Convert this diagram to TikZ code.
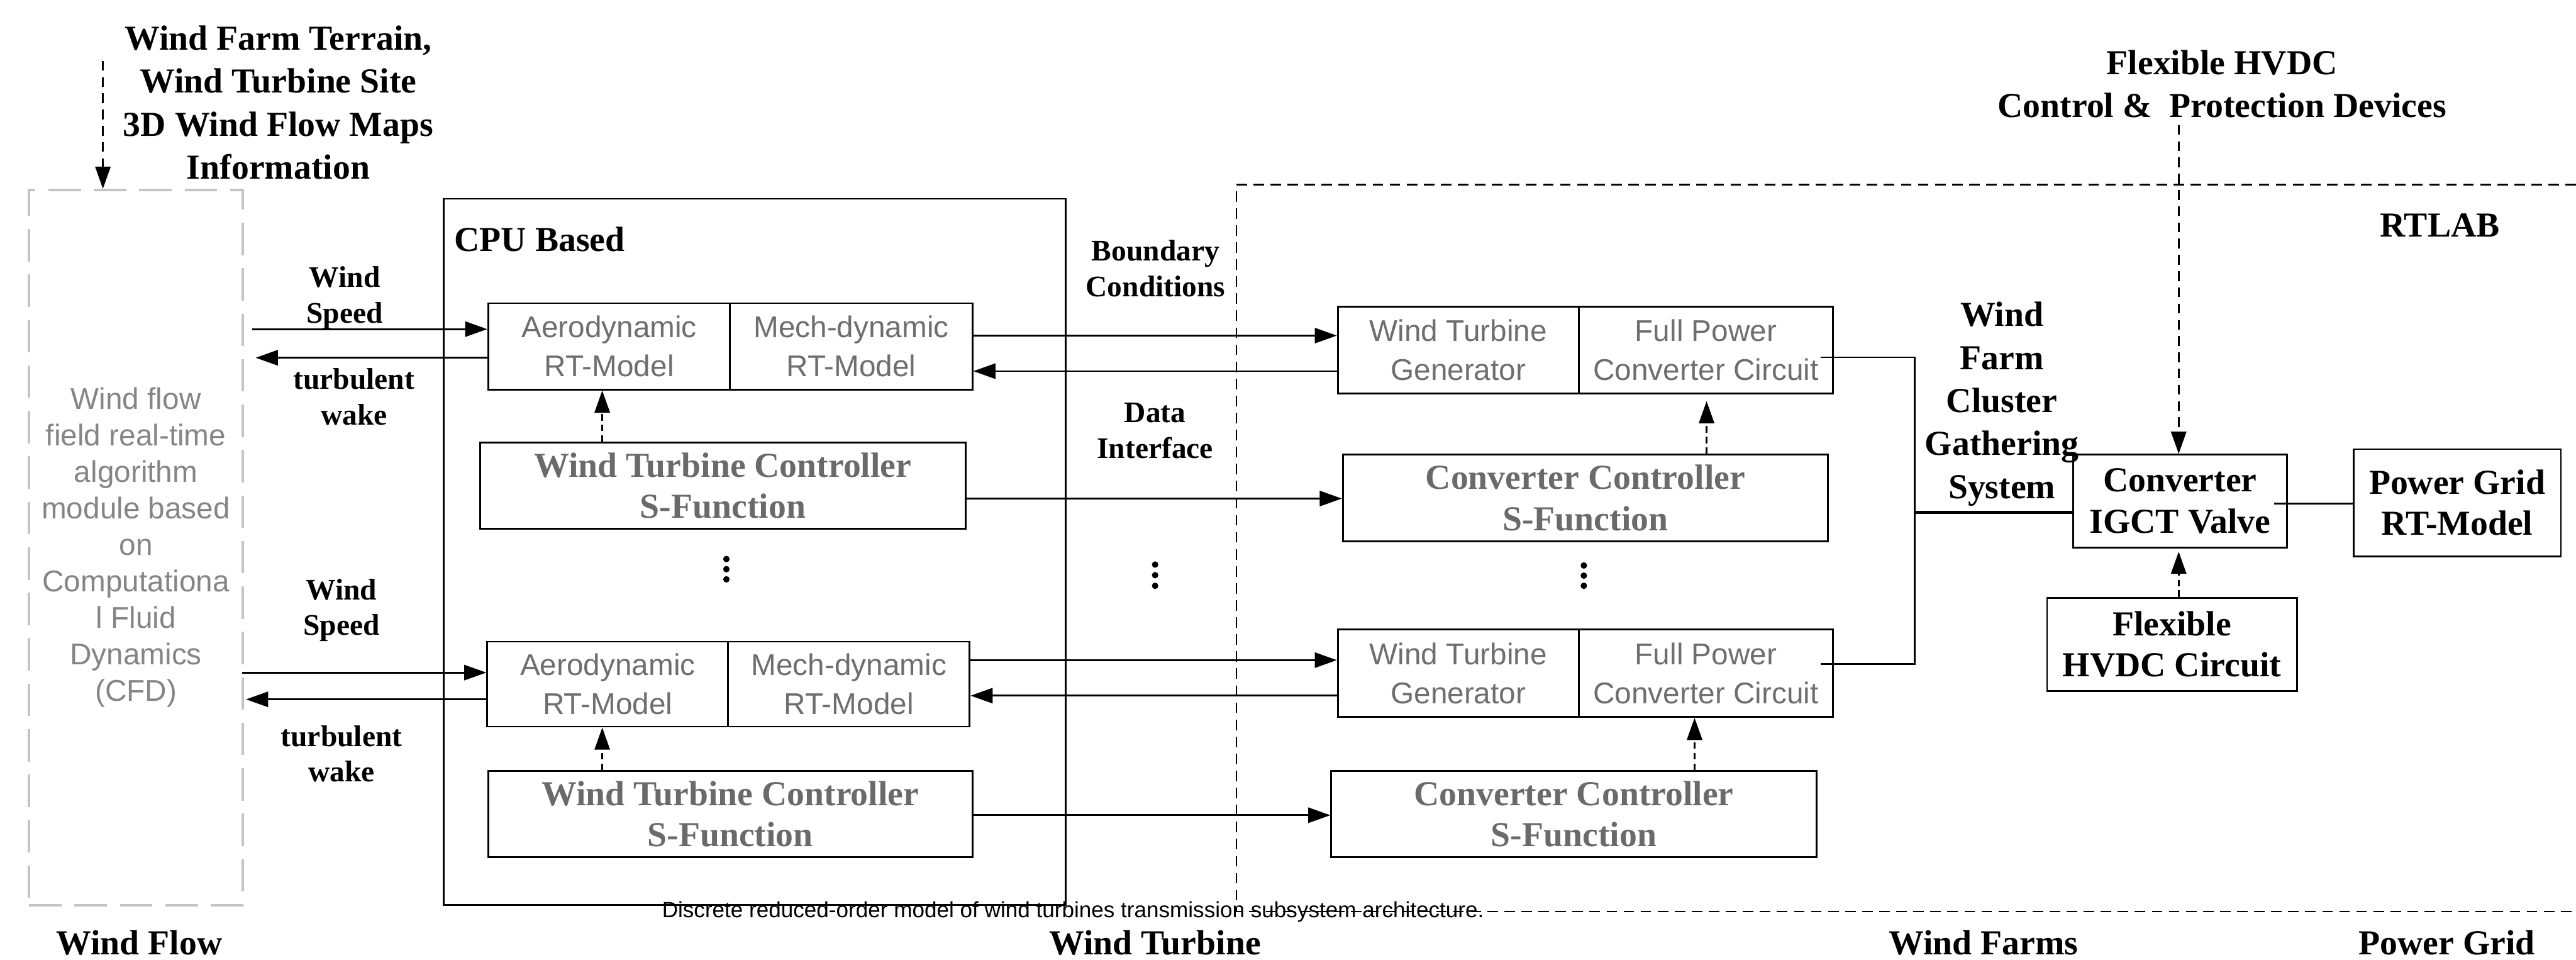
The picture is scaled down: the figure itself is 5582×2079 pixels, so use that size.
\documentclass[tikz,border=0pt]{standalone}
\usepackage{fontspec}
\setmainfont{Liberation Serif}
\setsansfont{Liberation Sans}
\usetikzlibrary{arrows.meta}
\definecolor{gtxt}{HTML}{6E6E6E}
\definecolor{gleft}{HTML}{858585}
\definecolor{gbld}{HTML}{6A6A6A}
\definecolor{gdash}{HTML}{C4C4C4}
\tikzset{
  bx/.style={draw, line width=1.1pt, inner sep=0pt, align=center},
  gsans/.style={font=\sffamily\fontsize{18.5pt}{24pt}\selectfont, text=gtxt},
  gbold/.style={font=\bfseries\fontsize{21.6pt}{25.5pt}\selectfont, text=gbld},
  bbox/.style={font=\bfseries\fontsize{21.6pt}{25.3pt}\selectfont},
  bbig/.style={font=\bfseries\fontsize{21.6pt}{26.5pt}\selectfont, inner sep=0pt, align=center},
  bsmall/.style={font=\bfseries\fontsize{18.4pt}{22pt}\selectfont, inner sep=0pt, align=center},
  arr/.style={line width=1.1pt, -{Triangle[length=0.48cm,width=0.33cm]}},
  darr/.style={arr, dash pattern=on 4pt off 2.5pt},
  tdarr/.style={arr, dash pattern=on 6pt off 4pt},
  ln/.style={line width=1.1pt},
  rtdash/.style={line width=0.9pt, dash pattern=on 6.5pt off 4pt},
}
\begin{document}
\begin{tikzpicture}[x=0.01cm,y=-0.01cm]
\useasboundingbox (0,0) rectangle (5582,2079);

% ---------- left: wind flow ----------
\node[draw=gdash, line width=1.5pt, dash pattern=on 20pt off 8pt, minimum width=4.63cm, minimum height=15.48cm, inner sep=0pt, align=center, font=\sffamily\fontsize{18.5pt}{22.5pt}\selectfont, text=gleft] (wf) at (294.5,1186) {Wind flow\\field real-time\\algorithm\\module based\\on\\Computationa\\l Fluid\\Dynamics\\(CFD)};
\node[bbig] (title) at (603,222) {Wind Farm Terrain,\\Wind Turbine Site\\3D Wind Flow Maps\\Information};
\coordinate (tstart) at (223,132);
\draw[tdarr] (tstart) -- (tstart |- wf.north);

% ---------- CPU box ----------
\node[draw, line width=1pt, minimum width=13.47cm, minimum height=15.29cm, inner sep=0pt] (cpu) at (1635.5,1195.5) {};
\node[bbig, anchor=west] (cpulbl) at (984,518) {CPU Based};

\node[bx, gsans, minimum width=5.24cm, minimum height=1.87cm] (aero1) at (1320,750.5) {Aerodynamic\\RT-Model};
\node[bx, gsans, minimum width=5.25cm, minimum height=1.87cm] (mech1) at (1844.5,750.5) {Mech-dynamic\\RT-Model};
\node[bx, gbold, minimum width=10.51cm, minimum height=1.86cm] (ctrl1) at (1566.5,1052) {Wind Turbine Controller\\S-Function};

\node[bx, gsans, minimum width=5.22cm, minimum height=1.84cm] (aero2) at (1317,1482) {Aerodynamic\\RT-Model};
\node[bx, gsans, minimum width=5.23cm, minimum height=1.84cm] (mech2) at (1839.5,1482) {Mech-dynamic\\RT-Model};
\node[bx, gbold, minimum width=10.49cm, minimum height=1.87cm] (ctrl2) at (1582.5,1763.5) {Wind Turbine Controller\\S-Function};

\fill (1574,1211) circle[radius=0.07cm];
\fill (1574,1233) circle[radius=0.07cm];
\fill (1574,1255) circle[radius=0.07cm];

% ---------- labels between ----------
\node[bsmall] (ws1l) at (747,645) {Wind\\Speed};
\node[bsmall] (tw1l) at (767,860) {turbulent\\wake};
\node[bsmall] (ws2l) at (740,1322) {Wind\\Speed};
\node[bsmall] (tw2l) at (740,1633) {turbulent\\wake};
\node[bsmall] (bcl) at (2504,582) {Boundary\\Conditions};
\node[bsmall] (dil) at (2503,933) {Data\\Interface};

\fill (2503,1223) circle[radius=0.07cm];
\fill (2503,1246) circle[radius=0.07cm];
\fill (2503,1269) circle[radius=0.07cm];

% ---------- RTLAB region ----------
\draw[rtdash] (5582,400) -- (2679,400) -- (2679,1975) -- (5582,1975);
\node[bbig] (rtlab) at (5287,488) {RTLAB};

\node[bx, gsans, minimum width=5.22cm, minimum height=1.88cm] (wtg1) at (3160,758) {Wind Turbine\\Generator};
\node[bx, gsans, minimum width=5.51cm, minimum height=1.88cm] (fpc1) at (3696.5,758) {Full Power\\Converter Circuit};
\node[bx, gbold, minimum width=10.51cm, minimum height=1.88cm] (conv1) at (3435.5,1079) {Converter Controller\\S-Function};

\node[bx, gsans, minimum width=5.22cm, minimum height=1.89cm] (wtg2) at (3160,1458.5) {Wind Turbine\\Generator};
\node[bx, gsans, minimum width=5.51cm, minimum height=1.89cm] (fpc2) at (3696.5,1458.5) {Full Power\\Converter Circuit};
\node[bx, gbold, minimum width=10.51cm, minimum height=1.87cm] (conv2) at (3410.5,1763.5) {Converter Controller\\S-Function};

\fill (3432,1225) circle[radius=0.07cm];
\fill (3432,1247) circle[radius=0.07cm];
\fill (3432,1269) circle[radius=0.07cm];

\node[bbig] (gath) at (4338,875) {Wind\\Farm\\Cluster\\Gathering\\System};
\node[bx, bbox, minimum width=4.64cm, minimum height=2.01cm] (igct) at (4724,1085.5) {Converter\\IGCT Valve};
\node[bx, bbox, minimum width=4.49cm, minimum height=2.32cm] (pg) at (5324.5,1089) {Power Grid\\RT-Model};
\node[bx, bbox, minimum width=5.41cm, minimum height=2.02cm] (hvdc) at (4706.5,1396) {Flexible\\HVDC Circuit};
\node[bbig] (hvdcctl) at (4815,182) {Flexible HVDC\\Control \&\ \ Protection Devices};

% ---------- connectors: upper turbine ----------
\coordinate (ws1) at (546,713);
\draw[arr] (ws1) -- (ws1 -| aero1.west);
\coordinate (tw1) at (554,775);
\draw[arr] (tw1 -| aero1.west) -- (tw1);
\coordinate (bc1) at (0,727);
\draw[arr] (bc1 -| mech1.east) -- (bc1 -| wtg1.west);
\coordinate (rt1) at (0,804);
\draw[arr] (rt1 -| wtg1.west) -- (rt1 -| mech1.east);
\coordinate (cc1) at (0,1080);
\draw[arr] (cc1 -| ctrl1.east) -- (cc1 -| conv1.west);
\coordinate (da1) at (1305,0);
\draw[darr] (da1 |- ctrl1.north) -- (da1 |- aero1.south);
\coordinate (dc1) at (3698,0);
\draw[darr, shorten >=0.15cm] (dc1 |- conv1.north) -- (dc1 |- fpc1.south);

% ---------- connectors: lower turbine ----------
\coordinate (ws2) at (525,1457);
\draw[arr] (ws2) -- (ws2 -| aero2.west);
\coordinate (tw2) at (533,1515);
\draw[arr] (tw2 -| aero2.west) -- (tw2);
\coordinate (bc2) at (0,1430);
\draw[arr] (bc2 -| mech2.east) -- (bc2 -| wtg2.west);
\coordinate (rt2) at (0,1507);
\draw[arr] (rt2 -| wtg2.west) -- (rt2 -| mech2.east);
\coordinate (cc2) at (0,1766);
\draw[arr] (cc2 -| ctrl2.east) -- (cc2 -| conv2.west);
\draw[darr] (da1 |- ctrl2.north) -- (da1 |- aero2.south);
\coordinate (dc2) at (3672,0);
\draw[darr] (dc2 |- conv2.north) -- (dc2 |- fpc2.south);

% ---------- connectors: farm / grid ----------
\coordinate (bus) at (4149,0);
\coordinate (o1) at (3945,774);
\coordinate (o2) at (3945,1438);
\draw[ln] (o1) -- (o1 -| bus) -- (o2 -| bus) -- (o2);
\coordinate (g1) at (0,1110);
\draw[line width=2pt] (g1 -| bus) -- (g1 -| igct.west);
\coordinate (p1) at (4928,1091);
\draw[ln] (p1) -- (p1 -| pg.west);
\coordinate (hc) at (4721,271);
\draw[tdarr] (hc) -- (hc |- igct.north);
\draw[darr, shorten >=0.07cm] (hc |- hvdc.north) -- (hc |- igct.south);

% ---------- bottom labels ----------
\node[bbig, anchor=base] (lwf) at (302,2068) {Wind Flow};
\node[bbig, anchor=base] (lwt) at (2503,2068) {Wind Turbine};
\node[bbig, anchor=base] (lwfs) at (4298,2068) {Wind Farms};
\node[bbig, anchor=base] (lpg) at (5302,2068) {Power Grid};
\node[font=\sffamily\fontsize{13.6pt}{16pt}\selectfont, inner sep=0pt, anchor=base west] (caption) at (1434,1987) {Discrete reduced-order model of wind turbines transmission subsystem architecture.};
\end{tikzpicture}
\end{document}
